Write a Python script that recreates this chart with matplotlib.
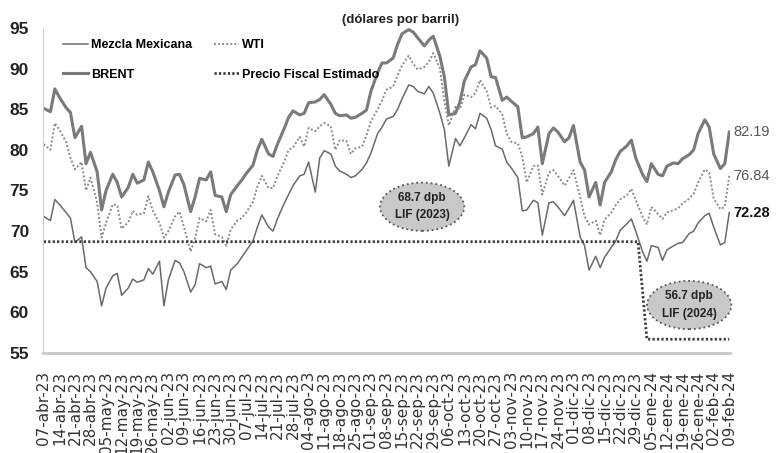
import matplotlib
matplotlib.use("Agg")
import matplotlib.pyplot as plt
import pandas as pd

# Precios diarios (lun/mie/vie), dolares por barril
fechas = pd.bdate_range("2023-04-07", "2024-02-09", freq="C", weekmask="Mon Wed Fri")

brent = [
    85.1, 84.7, 87.5, 86.5, 85.2, 84.6, 81.5, 82.9, 78.3, 79.7, 77.3, 72.6,
    75.0, 77.0, 76.0, 74.2, 75.4, 77.0, 75.9, 76.3, 78.5, 77.3, 75.0, 73.0,
    74.8, 76.9, 77.0, 75.7, 72.4, 74.2, 76.5, 76.3, 77.3, 74.4, 74.2, 72.4,
    74.5, 75.6, 76.3, 77.1, 78.1, 80.0, 81.3, 79.5, 79.2, 80.7, 82.6, 84.0,
    84.8, 84.3, 84.5, 85.8, 85.9, 86.2, 86.8, 85.6, 84.5, 84.2, 84.3, 83.9,
    84.0, 84.5, 84.9, 87.2, 89.5, 90.7, 90.7, 91.3, 93.0, 94.3, 94.8, 94.5,
    93.8, 92.8, 93.5, 94.0, 91.5, 89.0, 84.3, 84.5, 85.9, 88.5, 90.2, 90.5,
    92.2, 91.3, 89.0, 88.9, 86.1, 86.5, 86.0, 85.3, 81.5, 81.6, 82.0, 82.8,
    78.3, 82.0, 82.7, 82.2, 81.0, 81.5, 83.0, 78.5, 77.5, 74.2, 76.0, 73.2,
    76.0, 77.3, 78.8, 79.8, 80.5, 81.2, 79.0, 77.0, 76.1, 78.3, 77.0, 76.8,
    78.0, 78.4, 78.3, 78.9, 79.4, 80.0, 82.0, 83.7, 82.8, 79.5, 77.7, 78.3,
    82.19,
]

wti = [
    80.7, 80.0, 83.3, 82.5, 81.0, 79.0, 77.6, 78.5, 75.0, 76.6, 73.5, 69.2,
    71.0, 73.3, 73.2, 70.3, 71.1, 72.5, 72.0, 72.2, 74.3, 72.5, 71.0, 69.2,
    70.0, 71.8, 72.4, 70.5, 67.5, 69.1, 71.6, 71.2, 72.6, 69.6, 69.3, 68.2,
    70.2, 71.3, 71.6, 72.3, 73.6, 75.5, 76.8, 75.3, 75.3, 76.8, 78.5, 80.0,
    80.3, 81.6, 80.4, 82.7, 82.3, 82.9, 83.3, 82.9, 80.0, 81.2, 81.1, 79.5,
    80.2, 80.4, 81.8, 83.5, 85.0, 86.1, 87.4, 87.8, 89.2, 90.4, 91.6, 90.6,
    89.9, 90.2, 90.8, 91.9, 90.0, 86.0, 83.0, 85.3, 85.0, 86.8, 86.5, 87.0,
    88.6, 87.2, 85.2, 85.4, 84.4, 82.0, 81.0, 80.8, 79.2, 76.0, 78.0, 78.1,
    74.5, 77.2, 77.5, 76.8, 75.6, 76.5, 77.5, 74.2, 71.8, 70.8, 71.3, 69.5,
    71.4, 72.3, 73.2, 73.9, 74.4, 75.2, 73.8, 71.8, 70.8, 73.0, 72.1, 71.5,
    72.3, 72.6, 72.8, 73.4, 74.0, 74.6, 76.0, 77.6, 77.2, 74.0, 72.7, 73.0,
    76.84,
]

mezcla = [
    71.8, 71.3, 73.9, 73.3, 72.3, 71.6, 68.6, 69.3, 65.5, 65.0, 63.8, 60.8,
    63.0, 64.5, 64.8, 62.1, 63.0, 64.1, 63.7, 64.0, 65.4, 64.7, 66.3, 60.8,
    64.0, 66.4, 66.1, 65.0, 62.5, 63.4, 66.0, 65.5, 65.7, 63.5, 63.8, 62.8,
    65.2, 66.0, 66.8, 67.6, 68.8, 70.5, 72.0, 70.5, 70.0, 71.5, 73.4, 74.5,
    75.6, 76.8, 77.0, 78.5, 74.8, 79.0, 79.9, 79.5, 78.0, 77.4, 77.0, 76.6,
    76.8, 77.6, 78.4, 79.6, 82.0, 82.8, 83.8, 84.1, 85.0, 86.3, 88.0, 87.8,
    87.2, 86.9, 87.8, 87.0, 84.5, 82.5, 78.0, 81.4, 80.5, 81.5, 83.1, 82.6,
    84.5, 83.9, 82.5, 80.5, 80.1, 78.5, 77.8, 76.6, 72.5, 72.6, 73.8, 73.5,
    69.5, 73.5, 73.6, 73.0, 71.9, 72.8, 73.8, 69.3, 68.2, 65.2, 66.9, 65.5,
    66.8, 68.0, 68.8, 70.1, 70.9, 71.5, 70.0, 67.5, 66.3, 68.2, 68.0, 66.4,
    67.7, 68.2, 68.5, 68.6, 69.7, 70.0, 71.0, 71.9, 72.2, 70.5, 68.3, 68.6,
    72.28,
]

# Precio fiscal estimado (LIF 2023 y LIF 2024)
fiscal_fechas = pd.to_datetime(["2023-04-07", "2023-12-30", "2024-01-03", "2024-02-09"])
fiscal_valores = [68.7, 68.7, 56.7, 56.7]

meses = ["ene", "feb", "mar", "abr", "may", "jun", "jul", "ago", "sep", "oct", "nov", "dic"]
ticks = pd.date_range("2023-04-07", "2024-02-09", freq="7D")
tick_labels = [f"{d.day:02d}-{meses[d.month - 1]}-{d.strftime('%y')}" for d in ticks]

assert len(fechas) == len(brent) == len(wti) == len(mezcla)

fuente = ["Liberation Sans", "DejaVu Sans"]

fig = plt.figure(figsize=(7.78, 4.53), dpi=100)
ax = fig.add_axes([43 / 778, 1 - 353 / 453, 687 / 778, 325 / 453])

ax.plot(fechas, mezcla, color="#6a6a6a", lw=1.1, label="Mezcla Mexicana")
ax.plot(fechas, brent, color="#7a7a7a", lw=2.2, label="BRENT")
ax.plot(fechas, wti, color="#8a8a8a", lw=1.4, ls=(0, (1, 1.1)), label="WTI")
ax.plot(fiscal_fechas, fiscal_valores, color="#3c3c3c", lw=2.0, ls=(0, (0.8, 0.8)),
        label="Precio Fiscal Estimado")

ax.set_ylim(55, 95)
ax.set_yticks(range(55, 96, 5))
ax.set_xlim(fechas[0] - pd.Timedelta(hours=8), fechas[-1] + pd.Timedelta(hours=8))
ax.set_xticks(ticks)
ax.set_xticklabels(tick_labels, rotation=90, fontsize=11, color="#333333",
                   family="DejaVu Sans")
for lbl in ax.get_yticklabels():
    lbl.set_family(fuente)
    lbl.set_fontweight("bold")
    lbl.set_fontsize(12.5)
    lbl.set_color("#222222")
ax.tick_params(axis="both", length=0)
ax.tick_params(axis="y", pad=10)
ax.tick_params(axis="x", pad=13)

for side in ("top", "right"):
    ax.spines[side].set_visible(False)
ax.spines["left"].set_color("#d0d0d0")
ax.spines["bottom"].set_color("#c8c8c8")
ax.spines["bottom"].set_linewidth(2)

leg = fig.legend(loc="upper left", bbox_to_anchor=(52 / 778, 1 - 28 / 453), ncol=2,
                 frameon=False, handlelength=2.0, handletextpad=0.2,
                 columnspacing=1.8, labelspacing=1.4,
                 prop={"family": fuente, "weight": "bold", "size": 9})

# valores finales
finales = [(brent[-1], "normal", "#555555"), (wti[-1], "normal", "#555555"),
           (mezcla[-1], "bold", "#111111")]
for val, peso, col in finales:
    ax.annotate(f"{val:.2f}", (fechas[-1], val), xytext=(4, 0), textcoords="offset pixels",
                va="center", ha="left", fontsize=10.5, family=fuente, fontweight=peso,
                color=col, annotation_clip=False)

caja = dict(boxstyle="ellipse,pad=0.2", fc="#c8c8c8", ec="#555555", ls=":", lw=1.3)
ax.text(pd.Timestamp("2023-09-24"), 73.0, "68.7 dpb\nLIF (2023)", ha="center", va="center",
        fontsize=8.5, family=fuente, fontweight="bold", linespacing=1.6, bbox=caja,
        color="#222222")
ax.text(pd.Timestamp("2024-01-22"), 60.9, "56.7 dpb\nLIF (2024)", ha="center", va="center",
        fontsize=8.5, family=fuente, fontweight="bold", linespacing=1.6, bbox=caja,
        color="#222222")

fig.text(401 / 778, 1 - 20 / 453, "(dólares por barril)", ha="center", va="center",
         fontsize=9.5, family=fuente, fontweight="bold", color="#222222")

fig.savefig("out.png", dpi=100)
